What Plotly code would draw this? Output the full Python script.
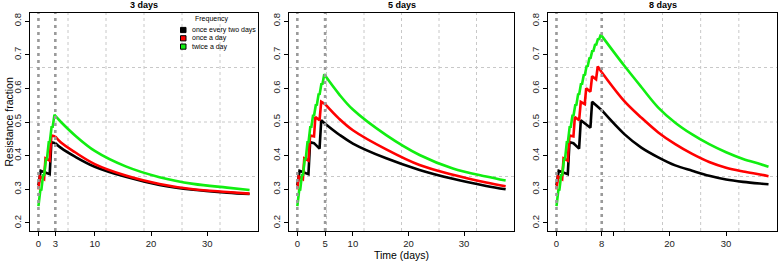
import plotly.graph_objects as go

# ---------------- data ----------------
durations = [3, 5, 8]
panel_titles = ["3 days", "5 days", "8 days"]
freq_names = ["once every two days", "once a day", "twice a day"]
freq_colors = ["#000000", "#ff0000", "#11ee11"]
x_ticks = [0, 10, 20, 30]
y_ticks = [0.2, 0.3, 0.4, 0.5, 0.6, 0.7, 0.8]

# treatment phase (same dynamics in every panel, cut at the treatment length)
black_treat_t = [0, 0.4, 2.0, 2.3, 3.0, 4.0, 4.3, 5.0, 6.0, 6.3, 8.0]
black_treat_v = [0.312, 0.355, 0.345, 0.440, 0.437, 0.421, 0.505, 0.495, 0.483, 0.560, 0.535]

red_treat_t = [0, 0.25, 1.0, 1.25, 2.0, 2.3, 3.0, 3.25, 4.0, 4.3, 5.0, 5.25, 6.0, 6.3, 7.0, 7.3, 8.0]
red_treat_v = [0.300, 0.338, 0.330, 0.392, 0.385, 0.460, 0.457, 0.515, 0.505, 0.560, 0.553,
               0.600, 0.590, 0.636, 0.627, 0.665, 0.648]

green_treat_t = [0, 0.35, 0.5, 0.85, 1.0, 1.35, 1.5, 1.85, 2.0, 2.35, 2.5, 2.85, 3.0, 3.35,
                 3.5, 3.85, 4.0, 4.35, 4.5, 4.85, 5.0, 5.35, 5.5, 5.85, 6.0, 6.35, 6.5, 6.85,
                 7.0, 7.35, 7.5, 7.85, 8.0]
green_treat_v = [0.250, 0.300, 0.296, 0.345, 0.340, 0.392, 0.388, 0.443, 0.438, 0.488, 0.483,
                 0.522, 0.518, 0.553, 0.549, 0.585, 0.581, 0.615, 0.611, 0.642, 0.638, 0.668,
                 0.664, 0.692, 0.688, 0.713, 0.709, 0.732, 0.728, 0.748, 0.744, 0.760, 0.756]

# after-treatment phase, per panel
decay3_t = [4, 6.5, 10, 15.5, 21.5, 27.5, 33.5, 37.5]
decay3_black = [0.423, 0.397, 0.367, 0.337, 0.313, 0.2985, 0.290, 0.286]
decay3_red = [0.439, 0.410, 0.375, 0.341, 0.316, 0.300, 0.292, 0.287]
decay3_green = [0.500, 0.460, 0.414, 0.368, 0.336, 0.316, 0.305, 0.298]

decay5_t = [7.5, 10, 16, 22, 28, 34, 37.5]
decay5_black = [0.463, 0.436, 0.392, 0.3575, 0.331, 0.310, 0.300]
decay5_red = [0.510, 0.4755, 0.4186, 0.372, 0.343, 0.320, 0.309]
decay5_green = [0.583, 0.537, 0.461, 0.402, 0.362, 0.338, 0.326]

decay8_t = [12, 15, 18, 21, 24, 27, 30, 33, 36, 37.5]
decay8_black = [0.464, 0.424, 0.395, 0.371, 0.355, 0.340, 0.329, 0.322, 0.317, 0.315]
decay8_red = [0.562, 0.513, 0.469, 0.434, 0.405, 0.381, 0.364, 0.353, 0.344, 0.339]
decay8_green = [0.667, 0.604, 0.543, 0.498, 0.463, 0.434, 0.410, 0.390, 0.375, 0.367]

# ---------------- figure ----------------
treat_t = [black_treat_t, red_treat_t, green_treat_t]
treat_v = [black_treat_v, red_treat_v, green_treat_v]
decays = {
    3: (decay3_t, [decay3_black, decay3_red, decay3_green]),
    5: (decay5_t, [decay5_black, decay5_red, decay5_green]),
    8: (decay8_t, [decay8_black, decay8_red, decay8_green]),
}

W, H = 778, 263
FONT = "Liberation Sans, Arial, Helvetica, sans-serif"
x_doms = [(30 / W, 258 / W), (289 / W, 514 / W), (548 / W, 777 / W)]
y_dom = (1 - 231 / H, 1 - 13 / H)
x_range = [-1.5, 39.0]
y_range = [0.176, 0.824]

fig = go.Figure()
shapes = []
annotations = []

for p, D in enumerate(durations):
    xa = "x" if p == 0 else f"x{p + 1}"
    ya = "y" if p == 0 else f"y{p + 1}"
    dt, dvals = decays[D]
    for f in range(3):
        tt = [t for t in treat_t[f] if t <= D]
        vv = [v for t, v in zip(treat_t[f], treat_v[f]) if t <= D]
        fig.add_trace(go.Scatter(x=tt, y=vv, mode="lines", xaxis=xa, yaxis=ya,
                                 line=dict(color=freq_colors[f], width=2.6),
                                 showlegend=False, hoverinfo="skip"))
        fig.add_trace(go.Scatter(x=[tt[-1]] + dt, y=[vv[-1]] + dvals[f], mode="lines",
                                 xaxis=xa, yaxis=ya, line_shape="spline",
                                 line=dict(color=freq_colors[f], width=2.6),
                                 name=freq_names[f], showlegend=False, hoverinfo="skip"))

    # dotted grid (equally spaced within the plotting region)
    for k in range(1, 6):
        gx = x_range[0] + k * (x_range[1] - x_range[0]) / 6
        shapes.append(dict(type="line", xref=xa, yref=f"{ya} domain", x0=gx, x1=gx, y0=0, y1=1,
                           line=dict(color="#c8c8c8", width=1, dash="dot"), layer="below"))
    for k in range(1, 4):
        gy = y_range[0] + k * (y_range[1] - y_range[0]) / 4
        shapes.append(dict(type="line", xref=f"{xa} domain", yref=ya, x0=0, x1=1, y0=gy, y1=gy,
                           line=dict(color="#c8c8c8", width=1, dash="dot"), layer="below"))
    # treatment start/end markers
    for vx in (0, D):
        shapes.append(dict(type="line", xref=xa, yref=f"{ya} domain", x0=vx, x1=vx, y0=0, y1=1,
                           line=dict(color="#9a9a9a", width=2.6, dash="3px,4px"), layer="above"))

    tickvals = sorted(set(x_ticks + [D]))
    ticktext = ["" if (v not in (0, D) and abs(v - D) < 2.5) else str(v) for v in tickvals]
    axis_common = dict(showline=True, linecolor="black", linewidth=1, mirror=True,
                       ticks="outside", ticklen=4, tickcolor="black", tickwidth=1,
                       showgrid=False, zeroline=False, automargin=False,
                       tickfont=dict(family=FONT, size=9.5, color="#222"))
    fig.layout[f"xaxis{'' if p == 0 else p + 1}"] = dict(
        domain=list(x_doms[p]), range=x_range, anchor=ya,
        tickvals=tickvals, ticktext=ticktext, **axis_common)
    fig.layout[f"yaxis{'' if p == 0 else p + 1}"] = dict(
        domain=list(y_dom), range=y_range, anchor=xa,
        tickvals=y_ticks, ticktext=[f"{v:.1f}" for v in y_ticks], tickangle=-90,
        **axis_common)

    annotations.append(dict(text=f"<b>{panel_titles[p]}</b>", xref="paper", yref="paper",
                            x=(x_doms[p][0] + x_doms[p][1]) / 2, y=1 - 5 / H,
                            xanchor="center", yanchor="middle", showarrow=False,
                            font=dict(family=FONT, size=9, color="black")))

# axis titles
annotations.append(dict(text="Resistance fraction", xref="paper", yref="paper",
                        x=8.5 / W, y=1 - 122 / H, textangle=-90, xanchor="center",
                        yanchor="middle", showarrow=False,
                        font=dict(family=FONT, size=10.5, color="black")))
annotations.append(dict(text="Time (days)", xref="paper", yref="paper",
                        x=(x_doms[1][0] + x_doms[1][1]) / 2, y=1 - 255 / H,
                        xanchor="center", yanchor="middle", showarrow=False,
                        font=dict(family=FONT, size=10.5, color="black")))

# legend (inside first panel)
annotations.append(dict(text="Frequency", xref="paper", yref="paper", x=212 / W, y=1 - 19 / H,
                        xanchor="center", yanchor="middle", showarrow=False, borderpad=0,
                        font=dict(family=FONT, size=7, color="black")))
for f in range(3):
    cy = 30 + f * 8.3
    shapes.append(dict(type="rect", xref="paper", yref="paper",
                       x0=180.5 / W, x1=186 / W, y0=1 - (cy + 2.6) / H, y1=1 - (cy - 2.6) / H,
                       fillcolor=freq_colors[f], line=dict(color="black", width=1)))
    annotations.append(dict(text=freq_names[f], xref="paper", yref="paper",
                            x=190.5 / W, y=1 - cy / H, xanchor="left", yanchor="middle",
                            showarrow=False, borderpad=0,
                            font=dict(family=FONT, size=7, color="black")))

fig.update_layout(width=W, height=H, margin=dict(l=0, r=0, t=0, b=0, autoexpand=False),
                  paper_bgcolor="white", plot_bgcolor="white",
                  shapes=shapes, annotations=annotations, showlegend=False)

fig.write_html("out.html", config={"displayModeBar": False},
               post_script="document.body.style.margin='0';document.body.style.padding='0';")
